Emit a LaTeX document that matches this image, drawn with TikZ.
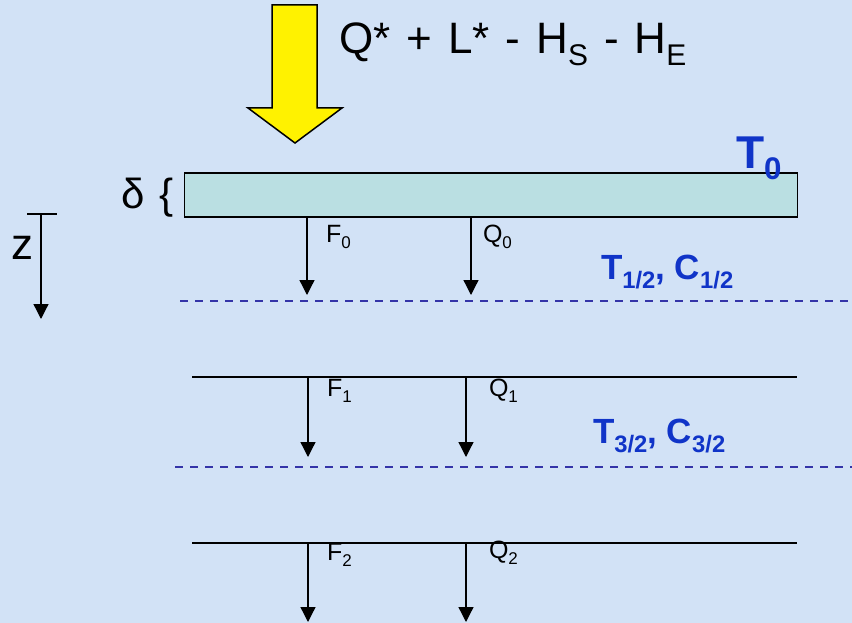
\documentclass[tikz,border=0pt]{standalone}
\usepackage{fontspec}
\setmainfont{Liberation Sans}
\usetikzlibrary{arrows.meta, positioning}
\definecolor{bgblue}{RGB}{210,226,246}
\definecolor{slabfill}{RGB}{186,223,226}
\definecolor{tblue}{RGB}{16,52,200}
\definecolor{dashblue}{RGB}{52,52,168}
\newcommand{\lsub}[1]{\raisebox{-0.26em}{\scalebox{0.68}{#1}}}

\begin{document}
\begin{tikzpicture}[x=1pt, y=-1pt,
    every node/.style={inner sep=0pt, outer sep=0pt},
    slab/.style={draw=black, fill=slabfill, line width=1.6pt,
                 minimum width=613pt, minimum height=44pt},
    level/.style={line width=1.4pt},
    half/.style={draw=dashblue, line width=1.5pt, dash pattern=on 8pt off 7pt},
    arr/.style={-{Triangle[length=15pt, width=15pt]}, line width=1.3pt},
    flux/.style={anchor=base west, font=\fontsize{25}{25}\selectfont},
    tlabel/.style={anchor=base west, text=tblue, font=\bfseries\fontsize{35}{35}\selectfont}
  ]
    \fill[bgblue] (0,0) rectangle (852,623);
    \useasboundingbox (0,0) rectangle (852,623);

    % incoming energy
    \draw[fill=yellow, line width=1.5pt] (272,5) -- (317,5) -- (317,108) -- (342,108)
        -- (295,143) -- (248,108) -- (272,108) -- cycle;
    \node[anchor=base west, font={\fontsize{44}{44}\selectfont\spaceskip=16pt\relax}] (budget)
        at (339,54) {Q* + L* - H\lsub{S} - H\lsub{E}};

    % surface layer
    \node[slab] (slab) at (491,195) {};
    \node[anchor=base east, font={\fontsize{42}{42}\selectfont\spaceskip=15pt\relax}] (delta)
        at (174,208) {δ \{};
    \node[anchor=base west, text=tblue, font=\bfseries\fontsize{46}{46}\selectfont] (t0)
        at (736,168) {T\lsub{0}};

    % depth axis
    \coordinate (ztop) at (41,214);
    \coordinate (zbot) at (41,319);
    \draw[line width=1.3pt] (27,214) -- (57,214);
    \draw[arr] (ztop) -- (zbot);
    \node[anchor=base west, font=\fontsize{44}{44}\selectfont] (z) at (11,259) {z};

    % level 0
    \coordinate (f0a) at (307,217);  \coordinate (f0b) at (307,295);
    \coordinate (q0a) at (471,217);  \coordinate (q0b) at (471,295);
    \draw[arr] (f0a) -- (f0b);
    \draw[arr] (q0a) -- (q0b);
    \node[flux] (F0) at (326,242) {F\lsub{0}};
    \node[flux] (Q0) at (483,242) {Q\lsub{0}};
    \node[tlabel] (tc1) at (601,279) {T\lsub{1/2}, C\lsub{1/2}};
    \coordinate (d1a) at (180,301);  \coordinate (d1b) at (852,301);
    \draw[half] (d1a) -- (d1b);

    % level 1
    \coordinate (l1a) at (192,377);  \coordinate (l1b) at (797,377);
    \draw[level] (l1a) -- (l1b);
    \coordinate (f1a) at (308,377);  \coordinate (f1b) at (308,457);
    \coordinate (q1a) at (466,377);  \coordinate (q1b) at (466,457);
    \draw[arr] (f1a) -- (f1b);
    \draw[arr] (q1a) -- (q1b);
    \node[flux] (F1) at (327,396) {F\lsub{1}};
    \node[flux] (Q1) at (489,396) {Q\lsub{1}};
    \node[tlabel] (tc3) at (593,443) {T\lsub{3/2}, C\lsub{3/2}};
    \coordinate (d2a) at (175,467);  \coordinate (d2b) at (852,467);
    \draw[half] (d2a) -- (d2b);

    % level 2
    \coordinate (l2a) at (192,543);  \coordinate (l2b) at (797,543);
    \draw[level] (l2a) -- (l2b);
    \coordinate (f2a) at (308,543);  \coordinate (f2b) at (308,622);
    \coordinate (q2a) at (466,543);  \coordinate (q2b) at (466,622);
    \draw[arr] (f2a) -- (f2b);
    \draw[arr] (q2a) -- (q2b);
    \node[flux] (F2) at (327,560) {F\lsub{2}};
    \node[flux] (Q2) at (489,558) {Q\lsub{2}};
\end{tikzpicture}
\end{document}
